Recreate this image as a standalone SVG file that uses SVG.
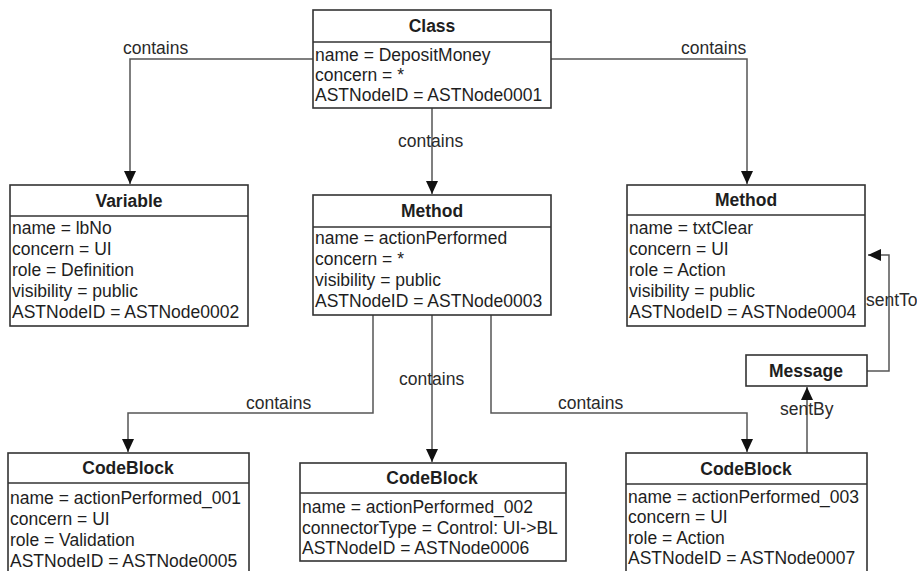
<svg xmlns="http://www.w3.org/2000/svg" width="917" height="571" viewBox="0 0 917 571">
<style>
.box{fill:#fff;stroke:#333;stroke-width:1.6}
.sep{stroke:#333;stroke-width:1.6}
.t{font-family:"Liberation Sans",Arial,sans-serif;font-size:17.5px;fill:#1e1e1e}
.h{font-family:"Liberation Sans",Arial,sans-serif;font-size:17.5px;font-weight:bold;fill:#1e1e1e;text-anchor:middle}
.c{fill:none;stroke:#555;stroke-width:1.5}
.lbl{font-family:"Liberation Sans",Arial,sans-serif;font-size:17.5px;fill:#2a2a2a}
</style>
<defs>
<marker id="arr" markerUnits="userSpaceOnUse" markerWidth="14" markerHeight="14" refX="13" refY="6" orient="auto">
<path d="M0,0 L13,6 L0,12 z" fill="#111"/>
</marker>
</defs>
<rect width="917" height="571" fill="#fff"/>
<g id="connectors">
<path class="c" d="M313,59 H130 V184" marker-end="url(#arr)"/>
<path class="c" d="M551,59 H747 V184" marker-end="url(#arr)"/>
<path class="c" d="M432,108 V194" marker-end="url(#arr)"/>
<path class="c" d="M373,315 V413 H128 V452" marker-end="url(#arr)"/>
<path class="c" d="M432,315 V462" marker-end="url(#arr)"/>
<path class="c" d="M491,315 V413 H747 V452" marker-end="url(#arr)"/>
<path class="c" d="M807,453 V387" marker-end="url(#arr)"/>
<path class="c" d="M867,371 H889 V255 H868" marker-end="url(#arr)"/>
<text class="lbl" x="123" y="54">contains</text>
<text class="lbl" x="681" y="54">contains</text>
<text class="lbl" x="398" y="147">contains</text>
<text class="lbl" x="246" y="409">contains</text>
<text class="lbl" x="399" y="385">contains</text>
<text class="lbl" x="558" y="409">contains</text>
<text class="lbl" x="780" y="415">sentBy</text>
<text class="lbl" x="866" y="306">sentTo</text>
</g>
<g id="class">
<rect class="box" x="313" y="10" width="238" height="98"/>
<line class="sep" x1="313" y1="42" x2="551" y2="42"/>
<text class="h" x="432" y="32">Class</text>
<text class="t" x="315" y="61">name = DepositMoney</text>
<text class="t" x="315" y="81">concern = *</text>
<text class="t" x="315" y="101">ASTNodeID = ASTNode0001</text>
</g>
<g id="variable">
<rect class="box" x="10" y="185" width="238" height="141"/>
<line class="sep" x1="10" y1="216" x2="248" y2="216"/>
<text class="h" x="129" y="207">Variable</text>
<text class="t" x="12" y="234">name = lbNo</text>
<text class="t" x="12" y="255">concern = UI</text>
<text class="t" x="12" y="276">role = Definition</text>
<text class="t" x="12" y="297">visibility = public</text>
<text class="t" x="12" y="318">ASTNodeID = ASTNode0002</text>
</g>
<g id="method-actionPerformed">
<rect class="box" x="313" y="195" width="238" height="120"/>
<line class="sep" x1="313" y1="227" x2="551" y2="227"/>
<text class="h" x="432" y="217">Method</text>
<text class="t" x="315" y="244">name = actionPerformed</text>
<text class="t" x="315" y="265">concern = *</text>
<text class="t" x="315" y="286">visibility = public</text>
<text class="t" x="315" y="307">ASTNodeID = ASTNode0003</text>
</g>
<g id="method-txtClear">
<rect class="box" x="627" y="185" width="238" height="141"/>
<line class="sep" x1="627" y1="215" x2="865" y2="215"/>
<text class="h" x="746" y="206">Method</text>
<text class="t" x="629" y="234">name = txtClear</text>
<text class="t" x="629" y="255">concern = UI</text>
<text class="t" x="629" y="276">role = Action</text>
<text class="t" x="629" y="297">visibility = public</text>
<text class="t" x="629" y="318">ASTNodeID = ASTNode0004</text>
</g>
<g id="message">
<rect class="box" x="746" y="355" width="121" height="31"/>
<text class="h" x="806" y="377">Message</text>
</g>
<g id="codeblock-001">
<rect class="box" x="8" y="453" width="241" height="130"/>
<line class="sep" x1="8" y1="483" x2="249" y2="483"/>
<text class="h" x="128" y="474">CodeBlock</text>
<text class="t" x="10" y="504">name = actionPerformed_001</text>
<text class="t" x="10" y="525">concern = UI</text>
<text class="t" x="10" y="546">role = Validation</text>
<text class="t" x="10" y="567">ASTNodeID = ASTNode0005</text>
</g>
<g id="codeblock-002">
<rect class="box" x="300" y="463" width="266" height="98"/>
<line class="sep" x1="300" y1="493" x2="566" y2="493"/>
<text class="h" x="432" y="484">CodeBlock</text>
<text class="t" x="302" y="513">name = actionPerformed_002</text>
<text class="t" x="302" y="534">connectorType = Control: UI-&gt;BL</text>
<text class="t" x="302" y="554">ASTNodeID = ASTNode0006</text>
</g>
<g id="codeblock-003">
<rect class="box" x="626" y="453" width="241" height="130"/>
<line class="sep" x1="626" y1="484" x2="867" y2="484"/>
<text class="h" x="746" y="475">CodeBlock</text>
<text class="t" x="628" y="503">name = actionPerformed_003</text>
<text class="t" x="628" y="523">concern = UI</text>
<text class="t" x="628" y="544">role = Action</text>
<text class="t" x="628" y="564">ASTNodeID = ASTNode0007</text>
</g>
</svg>
